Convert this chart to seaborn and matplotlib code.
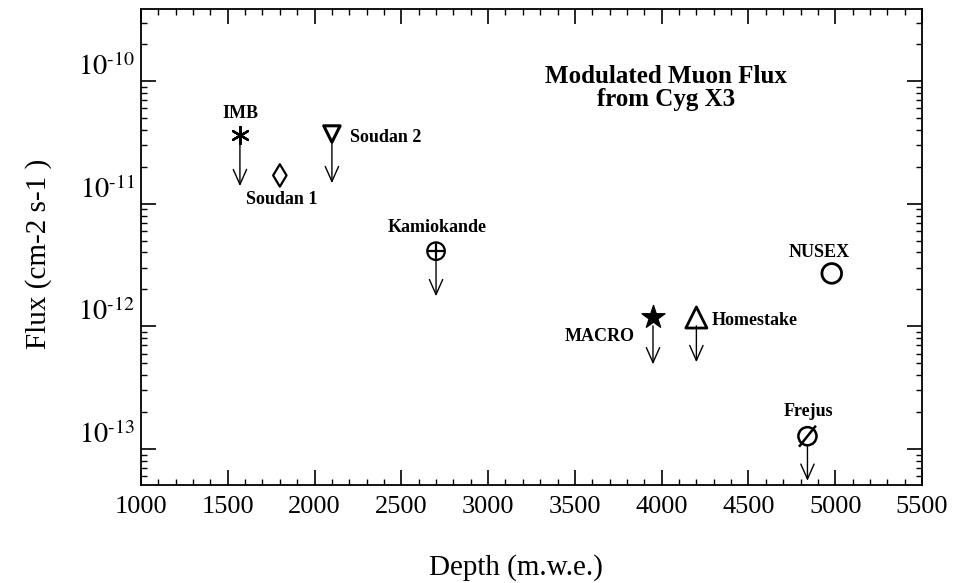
import numpy as np
import pandas as pd
import matplotlib
matplotlib.use("Agg")
import matplotlib.pyplot as plt
import seaborn as sns

# ---- data ----
experiments = ["IMB", "Soudan 1", "Soudan 2", "Kamiokande", "MACRO", "Homestake", "NUSEX", "Frejus"]
depth = [1570, 1800, 2100, 2700, 3950, 4200, 4980, 4840]
flux = [3.6e-11, 1.7e-11, 3.7e-11, 4.1e-12, 1.18e-12, 1.18e-12, 2.7e-12, 1.27e-13]
# upper-limit arrow tips (None = no arrow)
arrow_tip = [1.39e-11, None, 1.47e-11, 1.76e-12, 4.9e-13, 5.1e-13, None, 5.5e-14]
ytick_vals = [1e-13, 1e-12, 1e-11, 1e-10]
ytick_labels = [r"$10^{\text{-13}}$", r"$10^{\text{-12}}$", r"$10^{\text{-11}}$", r"$10^{\text{-10}}$"]
xtick_vals = [1000, 1500, 2000, 2500, 3000, 3500, 4000, 4500, 5000, 5500]
title_text = "Modulated Muon Flux\nfrom Cyg X3"

df = pd.DataFrame({"experiment": experiments, "depth": depth, "flux": flux})

sns.set_theme(style="ticks")
plt.rcParams["font.family"] = ["Liberation Serif", "DejaVu Serif"]
plt.rcParams["mathtext.fontset"] = "stix"

fig = plt.figure(figsize=(9.65, 5.83), dpi=100)
ax = fig.add_axes([141/965, 1-485/583, (922-141)/965, (485-9)/583])

# marker styles per experiment
styles = {
    "IMB":        dict(marker=(6, 2, 0), s=150, facecolors="black", edgecolor="black", linewidth=1.7),
    "Soudan 1":   dict(marker="d", s=130, facecolors="none", edgecolor="black", linewidth=1.6),
    "Soudan 2":   dict(marker="v", s=140, facecolors="none", edgecolor="black", linewidth=2.2),
    "Kamiokande": dict(marker="o", s=160, facecolors="none", edgecolor="black", linewidth=1.6),
    "MACRO":      dict(marker="*", s=300, facecolors="black", edgecolor="black", linewidth=1.0),
    "Homestake":  dict(marker="^", s=230, facecolors="none", edgecolor="black", linewidth=2.0),
    "NUSEX":      dict(marker="o", s=200, facecolors="none", edgecolor="black", linewidth=2.0),
    "Frejus":     dict(marker="o", s=170, facecolors="none", edgecolor="black", linewidth=1.8),
}
for name in experiments:
    sub = df[df["experiment"] == name]
    sns.scatterplot(data=sub, x="depth", y="flux", ax=ax, legend=False, zorder=3, **styles[name])
# overlays: plus inside Kamiokande circle, slash through Frejus circle
sub = df[df["experiment"] == "Kamiokande"]
sns.scatterplot(data=sub, x="depth", y="flux", ax=ax, legend=False, zorder=4,
                marker="+", s=160, color="black", linewidth=1.6)
slash = matplotlib.path.Path([(-1, -1.25), (1, 1.25)], [matplotlib.path.Path.MOVETO, matplotlib.path.Path.LINETO])
sub = df[df["experiment"] == "Frejus"]
sns.scatterplot(data=sub, x="depth", y="flux", ax=ax, legend=False, zorder=4,
                marker=slash, s=230, facecolors="none", edgecolor="black", linewidth=1.8)

# upper-limit arrows
for x, y, tip in zip(depth, flux, arrow_tip):
    if tip is None:
        continue
    ax.annotate("", xy=(x, tip), xytext=(x, y),
                arrowprops=dict(arrowstyle="->,head_length=0.9,head_width=0.4",
                                color="black", lw=1.0, shrinkA=6, shrinkB=0))

# labels
label_fmt = {
    "IMB":        ((0, 22), "center", "center"),
    "Soudan 1":   ((2, -24), "center", "center"),
    "Soudan 2":   ((18, -3), "left", "center"),
    "Kamiokande": ((1, 24), "center", "center"),
    "MACRO":      ((-18, -19), "right", "center"),
    "Homestake":  ((15, -3), "left", "center"),
    "NUSEX":      ((-13, 21), "center", "center"),
    "Frejus":     ((1, 25), "center", "center"),
}
for name, x, y in zip(experiments, depth, flux):
    off, ha, va = label_fmt[name]
    ax.annotate(name, xy=(x, y), xytext=off, textcoords="offset pixels",
                ha=ha, va=va, fontsize=13, fontweight="bold", color="black")

ax.text(0.672, 0.834, title_text, transform=ax.transAxes, ha="center", va="center",
        fontsize=18, fontweight="bold", linespacing=1.05, color="black")

ax.set_yscale("log")
ax.set_xlim(1000, 5500)
ax.set_ylim(5.08e-14, 3.87e-10)
ax.set_xticks(xtick_vals)
ax.set_xticklabels([str(v) for v in xtick_vals])
ax.xaxis.set_minor_locator(matplotlib.ticker.MultipleLocator(100))
ax.set_yticks(ytick_vals)
ax.set_yticklabels(ytick_labels)
ax.yaxis.set_minor_locator(matplotlib.ticker.LogLocator(base=10, subs=np.arange(2, 10)))
ax.yaxis.set_minor_formatter(matplotlib.ticker.NullFormatter())

ax.tick_params(which="both", direction="in", top=True, right=True, colors="black")
ax.tick_params(which="major", length=11, width=1.2)
ax.tick_params(which="minor", length=4.5, width=1.0)
ax.tick_params(axis="x", which="major", labelsize=19, pad=8)
ax.tick_params(axis="y", which="major", labelsize=20.5, pad=4)
for lab in ax.get_yticklabels():
    lab.set_va("bottom")

for sp in ax.spines.values():
    sp.set_linewidth(1.3)
    sp.set_color("black")

ax.set_xlabel("Depth (m.w.e.)", fontsize=21, color="black")
ax.xaxis.set_label_coords(0.48, -0.145)
ax.set_ylabel("Flux (cm-2 s-1 )", fontsize=21, color="black")
ax.yaxis.set_label_coords(-0.114, 0.485)

fig.savefig("out.png", dpi=100, facecolor="white")
